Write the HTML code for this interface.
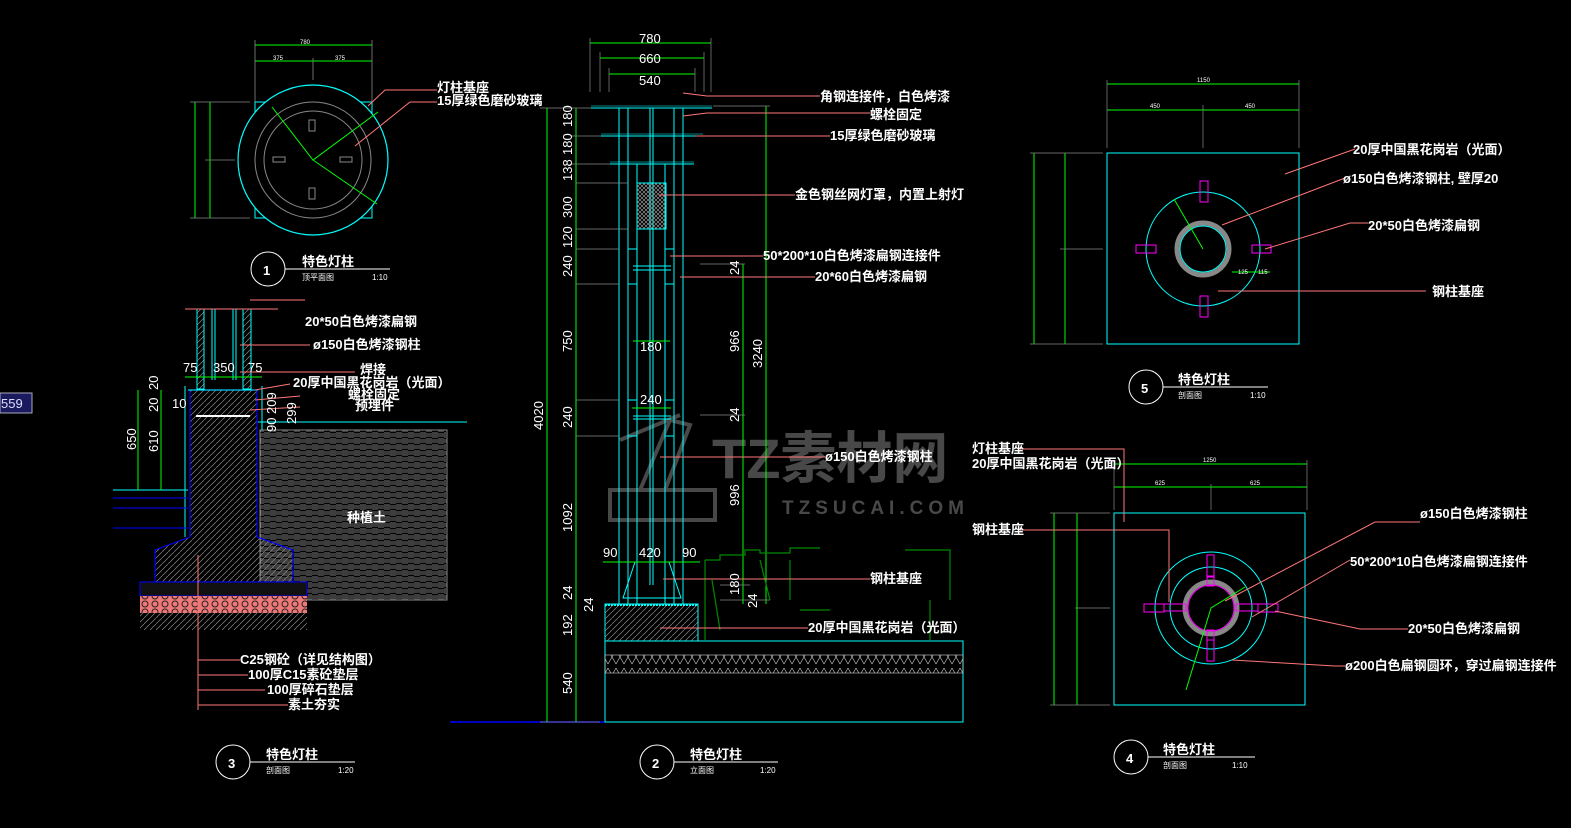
<!DOCTYPE html>
<html><head><meta charset="utf-8"><style>
html,body{margin:0;padding:0;background:#000;}
svg{display:block}
text{font-family:"Liberation Sans","Noto Sans CJK SC",sans-serif;}
.l{fill:#fff;font-size:13px;font-weight:bold}
.d{fill:#fff;font-size:13px}
.s{fill:#fff;font-size:6px}
</style></head><body>
<svg width="1571" height="828" viewBox="0 0 1571 828" xmlns="http://www.w3.org/2000/svg">
<defs>
<pattern id="hd" width="6" height="6" patternUnits="userSpaceOnUse"><path d="M0 6L6 0" stroke="#888" stroke-width="0.7"/></pattern>
<pattern id="bw" width="12" height="12" patternUnits="userSpaceOnUse"><path d="M1 0V6M3 0V6M5 0V6M6 2H12M6 4H12M0 8H6M0 10H6M7 6V12M9 6V12M11 6V12" stroke="#999" stroke-width="0.8"/></pattern>
<pattern id="gr" width="10" height="8" patternUnits="userSpaceOnUse"><rect width="10" height="8" fill="#e77"/><circle cx="5" cy="4" r="3" fill="none" stroke="#222" stroke-width="1"/></pattern>
<pattern id="xx" width="8" height="18" patternUnits="userSpaceOnUse"><path d="M0 2L8 16M8 2L0 16" stroke="#ccc" stroke-width="0.6"/></pattern>
<pattern id="mesh" width="4" height="4" patternUnits="userSpaceOnUse"><path d="M0 0L4 4M4 0L0 4" stroke="#aaa" stroke-width="0.6"/></pattern>
</defs>
<rect width="1571" height="828" fill="#000"/>
<rect x="0" y="393" width="32" height="20" fill="#1a1a5e" stroke="#aab" stroke-width="1"/>
<text x="1" y="408" fill="#ddf" font-size="13">559</text>

<!-- watermark -->
<g fill="#555" opacity="0.85">
<text x="712" y="478" font-size="56" font-weight="bold">TZ素材网</text>
<text x="782" y="514" font-size="19" font-weight="bold" letter-spacing="5">TZSUCAI.COM</text>
</g>
<g stroke="#555" stroke-width="4" fill="none" opacity="0.85"><path d="M610 520H715V490H610ZM640 490L670 420L690 425L665 490M620 440L680 415"/></g>

<!-- VIEW 1 -->
<g fill="none">
<g stroke="#0f0" stroke-width="1"><path d="M255 45H372M255 61H372M195 102V218M210 102V218"/></g>
<g stroke="#888" stroke-width="0.8"><path d="M255 40V102M372 40V102M313 58V80M190 102H250M190 218H250M205 160H235"/></g>
<rect x="255" y="102" width="117" height="116" stroke="#0ff" stroke-width="1"/>
<circle cx="313" cy="160" r="75" stroke="#0ff" stroke-width="1.2" fill="#000"/>
<circle cx="313" cy="160" r="58" stroke="#888"/>
<circle cx="313" cy="160" r="49" stroke="#888"/>
<g stroke="#888"><rect x="309" y="120" width="6" height="11"/><rect x="309" y="188" width="6" height="11"/><rect x="273" y="157" width="12" height="5"/><rect x="340" y="157" width="12" height="5"/></g>
<g stroke="#0f0"><path d="M272 107L313 160L378 112M313 160L377 204"/></g>
<g stroke="#f77"><path d="M368 106L385 90H437M355 146L410 102H437"/></g>
</g>
<text x="300" y="44" class="s">780</text><text x="273" y="60" class="s">375</text><text x="335" y="60" class="s">375</text>
<text x="437" y="92" class="l">灯柱基座</text><text x="437" y="105" class="l">15厚绿色磨砂玻璃</text>
<circle cx="268" cy="269" r="17" fill="none" stroke="#fff"/><text x="263" y="275" class="l" font-size="15">1</text>
<path d="M285 269H390" stroke="#fff"/>
<text x="302" y="266" class="l" font-size="14">特色灯柱</text><text x="302" y="280" fill="#fff" font-size="8">顶平面图</text><text x="372" y="280" fill="#fff" font-size="8">1:10</text>

<!-- VIEW 3 -->
<g fill="none">
<rect x="260" y="430" width="187" height="170" fill="url(#bw)" stroke="#888"/>
<path d="M190 390H257V537L293 550V582H155V550L190 537Z" fill="url(#hd)" stroke="#00f" stroke-width="1.2"/>
<rect x="140" y="582" width="167" height="14" fill="#111" stroke="#00f"/>
<rect x="140" y="596" width="167" height="17" fill="url(#gr)"/>
<rect x="140" y="613" width="167" height="17" fill="url(#hd)"/>
<g stroke="#0ff"><path d="M258 422H467M185 386V537M262 386V430M113 490H188"/></g>
<g stroke="#00f"><path d="M113 498H188M113 508H188M113 528H188"/></g>
<rect x="197" y="309" width="7" height="80" fill="url(#hd)" stroke="#0ff"/>
<rect x="243" y="309" width="8" height="80" fill="url(#hd)" stroke="#0ff"/>
<g stroke="#0ff"><path d="M212 309V380M215 309V380M233 309V380M236 309V380M188 390H258"/></g>
<path d="M196 416H250" stroke="#fff" stroke-width="2"/>
<path d="M185 309H278" stroke="#f77"/>
<g stroke="#0f0"><path d="M138 390V490M161 390V490M185 377H262"/></g>
<g stroke="#f77"><path d="M250 300H305M240 345H310M240 372H355M255 390L290 384M255 400L300 396M250 410L300 407M198 555V710M198 660H240M198 675H248M198 690H265M198 705H288"/></g>
</g>
<g class="d" font-size="12"><text x="183" y="372">75</text><text x="213" y="372">350</text><text x="248" y="372">75</text><text x="172" y="408">10</text>
<text transform="translate(136,450) rotate(-90)">650</text><text transform="translate(158,452) rotate(-90)">610</text>
<text transform="translate(158,390) rotate(-90)">20</text><text transform="translate(158,412) rotate(-90)">20</text>
<text transform="translate(276,414) rotate(-90)">209</text><text transform="translate(276,432) rotate(-90)">90</text><text transform="translate(296,424) rotate(-90)">299</text></g>
<g class="l" font-size="12"><text x="305" y="326">20*50白色烤漆扁钢</text><text x="313" y="349">ø150白色烤漆钢柱</text><text x="360" y="374">焊接</text><text x="293" y="387">20厚中国黑花岗岩（光面）</text><text x="348" y="399">螺栓固定</text><text x="355" y="410">预埋件</text><text x="347" y="522">种植土</text>
<text x="240" y="664">C25钢砼（详见结构图）</text><text x="248" y="679">100厚C15素砼垫层</text><text x="267" y="694">100厚碎石垫层</text><text x="288" y="709">素土夯实</text></g>
<circle cx="233" cy="762" r="17" fill="none" stroke="#fff"/><text x="228" y="768" class="l" font-size="15">3</text>
<path d="M250 762H355" stroke="#fff"/>
<text x="266" y="759" class="l" font-size="14">特色灯柱</text><text x="266" y="773" fill="#fff" font-size="8">剖面图</text><text x="338" y="773" fill="#fff" font-size="8">1:20</text>

<!-- VIEW 2 -->
<g fill="none">
<path d="M450 722H605" stroke="#00f" stroke-width="1.5"/>
<rect x="605" y="641" width="358" height="81" stroke="#0ff"/>
<rect x="605" y="655" width="358" height="18" fill="url(#xx)" stroke="#ccc" stroke-width="0.6"/>
<rect x="605" y="604" width="93" height="37" fill="url(#hd)" stroke="#0ff"/>
<path d="M605 605H698" stroke="#0ff" stroke-dasharray="2 1" stroke-width="2"/>
<g stroke="#0ff" stroke-width="1">
<path d="M591 108H712M601 136H703M610 164H694"/>
<path d="M591 106H712M601 134H703M610 162H694" stroke-width="0.6"/>
<path d="M619 108V604M628 108V604M637 164V604M650 108V585M653 108V585M665 164V604M674 108V604M683 108V604"/>
<path d="M628 249H637M665 249H674M628 284H637M665 284H674M633 266H671M633 270H671M628 400H637M665 400H674M633 416H671M633 419H671M628 436H637M665 436H674"/>
<path d="M635 562L623 598H681L669 562"/>
</g>
<rect x="637" y="183" width="29" height="46" fill="url(#mesh)" stroke="#0ff"/>
<g stroke="#0f0"><path d="M590 43H711M600 58H704M609 74H695M547 108V722M576 108V722M743 264V604M766 106V604M603 562H700M633 341H670M632 408H671"/></g>
<g stroke="#888" stroke-width="0.7"><path d="M590 38V92M711 38V92M600 52V92M704 52V92M609 68V92M695 68V92M540 108H591M570 136H601M570 164H610M576 183H628M576 229H628M576 249H619M576 284H619M576 400H619M576 436H619M540 722H600M700 264H745M700 415H745M720 585H750M720 600H770M713 106H770"/></g>
<g stroke="#080" stroke-width="1.2"><path d="M705 560H720V555H745V550H760V553H790V548H820M705 560V640M790 560V600M712 580L720 630M760 560L770 600M905 550H950V600M930 600V640M800 610H830"/></g>
<g stroke="#f77"><path d="M683 93L707 96H820M683 116L707 113H870M695 136H830M659 195H795M670 256H763M680 277H815M660 457H825M663 579H870M660 628H808"/></g>
</g>
<g class="d"><text x="639" y="43">780</text><text x="639" y="63">660</text><text x="639" y="85">540</text>
<text x="640" y="351">180</text><text x="640" y="404">240</text>
<text x="603" y="557">90</text><text x="639" y="557">420</text><text x="682" y="557">90</text>
<g font-size="13">
<text transform="translate(572,127) rotate(-90)">180</text><text transform="translate(572,155) rotate(-90)">180</text><text transform="translate(572,181) rotate(-90)">138</text><text transform="translate(572,218) rotate(-90)">300</text><text transform="translate(572,248) rotate(-90)">120</text><text transform="translate(572,277) rotate(-90)">240</text><text transform="translate(572,352) rotate(-90)">750</text><text transform="translate(572,428) rotate(-90)">240</text><text transform="translate(572,532) rotate(-90)">1092</text><text transform="translate(572,600) rotate(-90)">24</text><text transform="translate(572,636) rotate(-90)">192</text><text transform="translate(572,694) rotate(-90)">540</text><text transform="translate(543,430) rotate(-90)">4020</text><text transform="translate(593,612) rotate(-90)">24</text>
<text transform="translate(739,275) rotate(-90)">24</text><text transform="translate(739,352) rotate(-90)">966</text><text transform="translate(762,368) rotate(-90)">3240</text><text transform="translate(739,422) rotate(-90)">24</text><text transform="translate(739,506) rotate(-90)">996</text><text transform="translate(739,595) rotate(-90)">180</text><text transform="translate(757,608) rotate(-90)">24</text></g></g>
<g class="l" font-size="12"><text x="820" y="101">角钢连接件，白色烤漆</text><text x="870" y="119">螺栓固定</text><text x="830" y="140">15厚绿色磨砂玻璃</text><text x="795" y="199">金色钢丝网灯罩，内置上射灯</text><text x="763" y="260">50*200*10白色烤漆扁钢连接件</text><text x="815" y="281">20*60白色烤漆扁钢</text><text x="825" y="461">ø150白色烤漆钢柱</text><text x="870" y="583">钢柱基座</text><text x="808" y="632">20厚中国黑花岗岩（光面）</text></g>
<circle cx="657" cy="762" r="17" fill="none" stroke="#fff"/><text x="652" y="768" class="l" font-size="15">2</text>
<path d="M674 762H778" stroke="#fff"/>
<text x="690" y="759" class="l" font-size="14">特色灯柱</text><text x="690" y="773" fill="#fff" font-size="8">立面图</text><text x="760" y="773" fill="#fff" font-size="8">1:20</text>

<!-- VIEW 5 -->
<g fill="none">
<g stroke="#0f0"><path d="M1107 84H1299M1107 110H1299M1034 153V344M1065 153V344"/></g>
<g stroke="#888" stroke-width="0.7"><path d="M1107 80V148M1299 80V148M1203 105V148M1030 153H1103M1030 344H1103M1060 249H1103"/></g>
<rect x="1107" y="153" width="192" height="191" stroke="#0ff"/>
<circle cx="1203" cy="249" r="57" stroke="#0ff"/>
<circle cx="1203" cy="249" r="26" stroke="#888" stroke-width="5"/>
<circle cx="1203" cy="249" r="23" stroke="#0ff"/>
<g stroke="#f0f"><rect x="1200" y="181" width="8" height="21"/><rect x="1200" y="296" width="8" height="21"/><rect x="1136" y="245" width="20" height="8"/><rect x="1252" y="245" width="19" height="8"/></g>
<path d="M1174 199L1203 249" stroke="#0f0"/>
<path d="M1232 272H1270" stroke="#0f0"/>
<g stroke="#f77"><path d="M1285 174L1355 149M1222 225L1345 178M1265 249L1350 223H1368M1218 291H1426"/></g>
</g>
<g class="s"><text x="1197" y="82">1150</text><text x="1150" y="108">450</text><text x="1245" y="108">450</text><text x="1238" y="274">125</text><text x="1258" y="274">115</text></g>
<g class="l" font-size="12"><text x="1353" y="154">20厚中国黑花岗岩（光面）</text><text x="1343" y="183">ø150白色烤漆钢柱, 壁厚20</text><text x="1368" y="230">20*50白色烤漆扁钢</text><text x="1432" y="296">钢柱基座</text></g>
<circle cx="1146" cy="387" r="17" fill="none" stroke="#fff"/><text x="1141" y="393" class="l" font-size="15">5</text>
<path d="M1163 387H1268" stroke="#fff"/>
<text x="1178" y="384" class="l" font-size="14">特色灯柱</text><text x="1178" y="398" fill="#fff" font-size="8">剖面图</text><text x="1250" y="398" fill="#fff" font-size="8">1:10</text>

<!-- VIEW 4 -->
<g fill="none">
<g stroke="#0f0"><path d="M1114 464H1307M1114 487H1307M1054 513V705M1077 513V705"/></g>
<g stroke="#888" stroke-width="0.7"><path d="M1114 460V510M1307 460V510M1211 484V510M1050 513H1110M1050 705H1110M1075 608H1110"/></g>
<rect x="1114" y="513" width="191" height="192" stroke="#0ff"/>
<circle cx="1211" cy="608" r="56" stroke="#0ff"/>
<circle cx="1211" cy="608" r="41" stroke="#0ff"/>
<circle cx="1211" cy="608" r="26" stroke="#888" stroke-width="5"/>
<circle cx="1211" cy="608" r="23" stroke="#f0f"/>
<g stroke="#f0f"><rect x="1207" y="555" width="7" height="21"/><rect x="1207" y="640" width="7" height="21"/><rect x="1144" y="604" width="20" height="8"/><rect x="1258" y="604" width="20" height="8"/><rect x="1207" y="577" width="7" height="9"/><rect x="1207" y="630" width="7" height="10"/><rect x="1164" y="604" width="22" height="7"/><rect x="1236" y="604" width="22" height="7"/></g>
<g stroke="#0f0"><path d="M1186 690L1211 608L1245 587"/></g>
<g stroke="#f77"><path d="M1020 449H1124V522M1020 530H1169V602M1225 601L1375 522H1420M1252 617L1350 560M1275 611L1360 629H1408M1232 660L1335 666H1345"/></g>
</g>
<g class="s"><text x="1203" y="462">1250</text><text x="1155" y="485">625</text><text x="1250" y="485">625</text></g>
<g class="l" font-size="12"><text x="972" y="453">灯柱基座</text><text x="972" y="468">20厚中国黑花岗岩（光面）</text><text x="972" y="534">钢柱基座</text>
<text x="1420" y="518">ø150白色烤漆钢柱</text><text x="1350" y="566">50*200*10白色烤漆扁钢连接件</text><text x="1408" y="633">20*50白色烤漆扁钢</text><text x="1345" y="670">ø200白色扁钢圆环，穿过扁钢连接件</text></g>
<circle cx="1131" cy="757" r="17" fill="none" stroke="#fff"/><text x="1126" y="763" class="l" font-size="15">4</text>
<path d="M1148 757H1255" stroke="#fff"/>
<text x="1163" y="754" class="l" font-size="14">特色灯柱</text><text x="1163" y="768" fill="#fff" font-size="8">剖面图</text><text x="1232" y="768" fill="#fff" font-size="8">1:10</text>
</svg>
</body></html>
